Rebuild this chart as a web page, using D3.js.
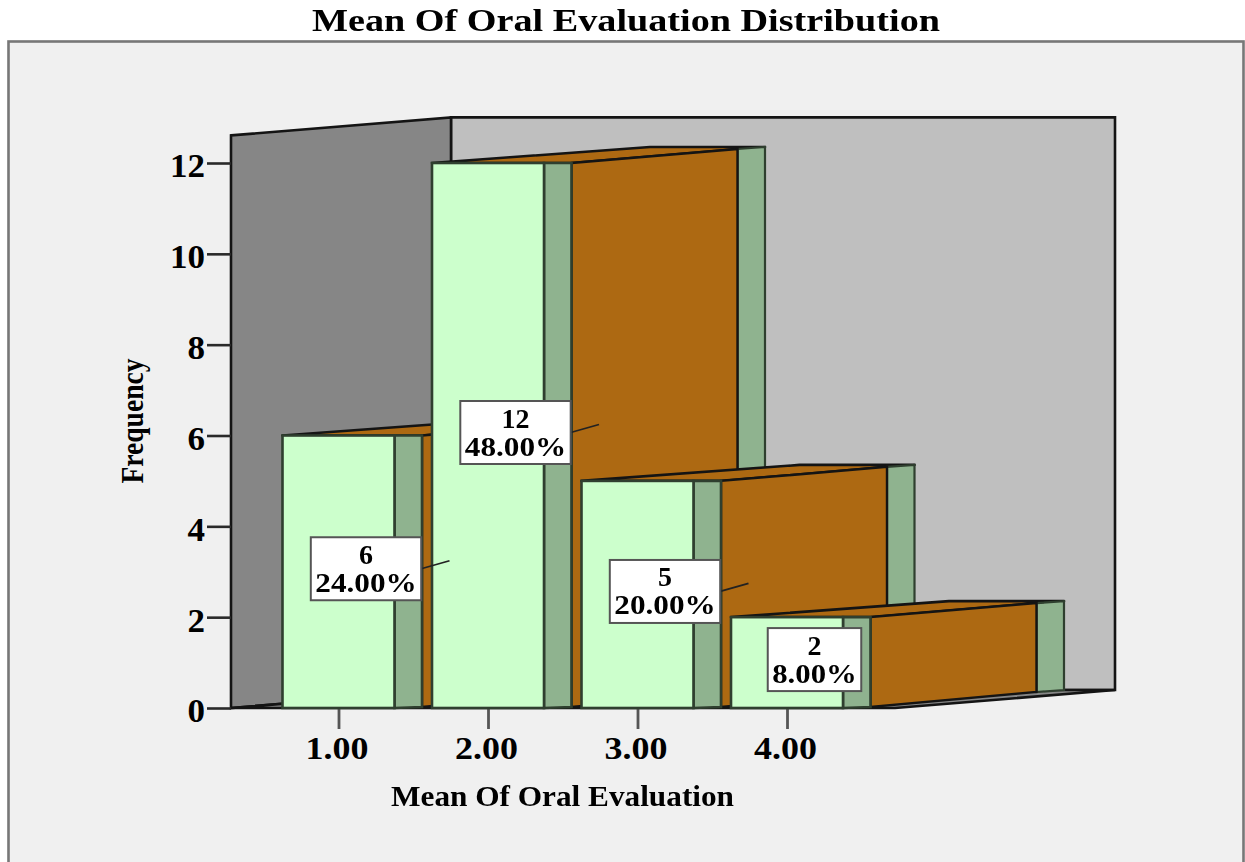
<!DOCTYPE html>
<html>
<head>
<meta charset="utf-8">
<script src="https://cdn.jsdelivr.net/npm/d3@7/dist/d3.min.js"></script>
<style>
html,body{margin:0;padding:0;background:#fff;overflow:hidden}
svg{display:block;filter:blur(0.45px)}
text{font-family:"Liberation Serif",serif;fill:#000}
</style>
</head>
<body>
<svg id="chart" width="1245" height="862"></svg>
<script>
const categories = ["1.00", "2.00", "3.00", "4.00"];
const counts = [6, 12, 5, 2];
const percents = ["24.00%", "48.00%", "20.00%", "8.00%"];
const yTickValues = [0, 2, 4, 6, 8, 10, 12];
const chartTitle = "Mean Of Oral Evaluation Distribution";
const xTitle = "Mean Of Oral Evaluation";
const yTitle = "Frequency";

const C = {panel:"#f0f0f0", frame:"#777", back:"#bfbfbf", left:"#868686",
           front:"#ccffcc", strip:"#8fb38f", side:"#ad6912", line:"#141414", frontLine:"#2f3f2f"};

const svg = d3.select("#chart");
const y = d3.scaleLinear().domain([0, 12]).range([708, 163]);
const x = d3.scalePoint().domain(categories).range([338.5, 787]);
const poly = pts => pts.map(p => p.join(",")).join(" ");

// frame
svg.append("rect").attr("x", 8.5).attr("y", 41.5).attr("width", 1235).attr("height", 860)
  .attr("fill", C.panel).attr("stroke", C.frame).attr("stroke-width", 2.6);

// walls and floor
const wallTop = y(12.63), wallLeft = 231, wallDx = 220, wallDy = -18, wallRight = 1115;
const base = y(0);
svg.append("polygon").attr("points", poly([[wallLeft+wallDx,wallTop+wallDy+1],[wallRight,wallTop+wallDy+1],[wallRight,base+wallDy],[wallLeft+wallDx,base+wallDy]]))
  .attr("fill", C.back).attr("stroke", C.line).attr("stroke-width", 2.6);
svg.append("polygon").attr("points", poly([[wallLeft,wallTop+1],[wallLeft+wallDx,wallTop+wallDy+1],[wallLeft+wallDx,base+wallDy],[wallLeft,base]]))
  .attr("fill", C.left).attr("stroke", C.line).attr("stroke-width", 2.6);
svg.append("polygon").attr("points", poly([[wallLeft,base],[wallLeft+wallDx,base+wallDy],[wallRight,base+wallDy],[wallRight-wallDx,base]]))
  .attr("fill", C.left).attr("stroke", C.line).attr("stroke-width", 2.6);

// axes
const yAxis = svg.append("g").attr("transform", `translate(${wallLeft},0)`)
  .call(d3.axisLeft(y).tickValues(yTickValues).tickFormat(d3.format("d")).tickSize(24).tickSizeOuter(0).tickPadding(2));
yAxis.select(".domain").remove();
yAxis.selectAll("line").attr("stroke", "#2a2a2a").attr("stroke-width", 2.6);
yAxis.selectAll("text").style("font-family", '"Liberation Serif",serif').attr("font-size", 33).attr("font-weight", "bold").attr("fill", "#000").attr("dy", "0.42em")
  .each(function (d) { d3.select(this).attr("textLength", String(d).length * 17.5).attr("lengthAdjust", "spacingAndGlyphs"); });

const xAxis = svg.append("g").attr("transform", `translate(0,${base})`)
  .call(d3.axisBottom(x).tickSize(21).tickSizeOuter(0).tickPadding(8));
xAxis.select(".domain").remove();
xAxis.selectAll("line").attr("stroke", "#555").attr("stroke-width", 2.8);
xAxis.selectAll("text").style("font-family", '"Liberation Serif",serif').attr("font-size", 31).attr("font-weight", "bold").attr("fill", "#000")
  .attr("x", -2).attr("textLength", 63).attr("lengthAdjust", "spacingAndGlyphs");

// bars
const halfW = 56, stripW = 27.5, sideW = 166, topDx = 218, topDy = -16, sideDy = -14;
const bars = categories.map((c, i) => ({c, v: counts[i], p: percents[i]}));
const g = svg.append("g");
bars.forEach(d => {
  const x0 = x(d.c) - halfW, x1 = x(d.c) + halfW, x2 = x1 + stripW, x3 = x2 + sideW, x4 = x3 + stripW;
  const t = y(d.v), b = base;
  // top face
  g.append("polygon").attr("points", poly([[x0,t],[x0+topDx,t+topDy],[x4,t+topDy],[x3,t+sideDy],[x2,t]]))
    .attr("fill", C.side).attr("stroke", C.line).attr("stroke-width", 2.6).attr("stroke-linejoin", "round");
  // far strip
  g.append("polygon").attr("points", poly([[x3,t+sideDy],[x4,t+topDy],[x4,b+topDy-2],[x3,b+sideDy-2]]))
    .attr("fill", C.strip).attr("stroke", C.frontLine).attr("stroke-width", 2.2);
  // side
  g.append("polygon").attr("points", poly([[x2,t],[x3,t+sideDy],[x3,b+sideDy-2],[x2,b-1]]))
    .attr("fill", C.side).attr("stroke", C.line).attr("stroke-width", 2.4);
  // near strip
  g.append("polygon").attr("points", poly([[x1,t],[x2,t],[x2,b-1],[x1,b]]))
    .attr("fill", C.strip).attr("stroke", C.frontLine).attr("stroke-width", 2.6);
  // front
  g.append("rect").attr("x", x0).attr("y", t).attr("width", x1 - x0).attr("height", b - t)
    .attr("fill", C.front).attr("stroke", C.frontLine).attr("stroke-width", 2.6);
});

// data labels (one text element per box, two lines as tspans)
const labelOffset = 83.5, boxH = 63, charW = 16.9, leaderEnd = 167;
const labels = svg.append("g");
bars.forEach(d => {
  const cx = x(d.c) - halfW + labelOffset, cy = y(d.v / 2) - 3;
  const tw = charW * d.p.length;
  const boxW = tw + 9;
  if (d.v > 2) {
    labels.append("line").attr("x1", cx + boxW / 2).attr("y1", cy)
      .attr("x2", x(d.c) - halfW + leaderEnd).attr("y2", cy - 8)
      .attr("stroke", "#222").attr("stroke-width", 1.8);
  }
  labels.append("rect").attr("x", cx - boxW / 2).attr("y", cy - boxH / 2).attr("width", boxW).attr("height", boxH)
    .attr("fill", "#fff").attr("stroke", "#555").attr("stroke-width", 2);
  const t = labels.append("text").attr("text-anchor", "middle").attr("font-weight", "bold");
  t.append("tspan").attr("x", cx).attr("y", cy - 5).attr("font-size", 28).text(d.v);
  t.append("tspan").attr("x", cx).attr("y", cy + 23).attr("font-size", 28)
    .attr("textLength", tw).attr("lengthAdjust", "spacingAndGlyphs").text(d.p);
});

// titles
svg.append("text").attr("x", 626).attr("y", 31).attr("text-anchor", "middle")
  .attr("font-size", 32).attr("font-weight", "bold")
  .attr("textLength", 628).attr("lengthAdjust", "spacingAndGlyphs").text(chartTitle);
svg.append("text").attr("x", 562.5).attr("y", 806).attr("text-anchor", "middle")
  .attr("font-size", 29).attr("font-weight", "bold").attr("fill", "#111")
  .attr("textLength", 343).attr("lengthAdjust", "spacingAndGlyphs").text(xTitle);
svg.append("text").attr("transform", "translate(143,421) rotate(-90)").attr("text-anchor", "middle")
  .attr("font-size", 32).attr("font-weight", "bold").attr("fill", "#111")
  .attr("textLength", 125).attr("lengthAdjust", "spacingAndGlyphs").text(yTitle);
</script>
</body>
</html>
